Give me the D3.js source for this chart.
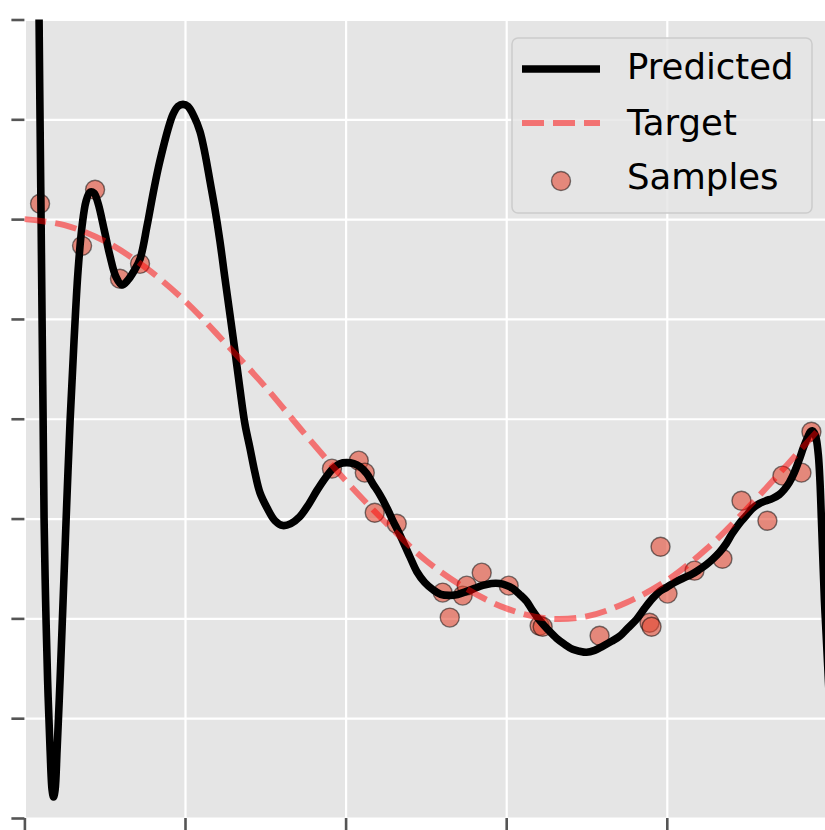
<!DOCTYPE html>
<html>
<head>
<meta charset="utf-8">
<script src="https://cdn.jsdelivr.net/npm/d3@7"></script>
<style>
  body { margin: 0; background: #fff; }
  svg { display: block; }
</style>
</head>
<body>
<script>

// noisy samples
var sampleX = [0.0195, 0.0880, 0.0718, 0.1190, 0.1440, 0.3830, 0.4164, 0.4239, 0.4363, 0.4637,
               0.5209, 0.5458, 0.5508, 0.5695, 0.5297, 0.6031, 0.6416, 0.6454, 0.7163, 0.7785,
               0.7810, 0.7922, 0.8009, 0.8345, 0.8693, 0.8930, 0.9253, 0.9440, 0.9677, 0.9801];
var sampleY = [1.077, 1.147, 0.866, 0.701, 0.776, -0.250, -0.210, -0.270, -0.471, -0.526,
               -0.871, -0.886, -0.836, -0.771, -0.996, -0.836, -1.037, -1.042, -1.087, -1.022,
               -1.042, -0.641, -0.876, -0.761, -0.701, -0.411, -0.511, -0.285, -0.270, -0.065];

// target curve
var targetX = [0, 0.05, 0.10, 0.15, 0.20, 0.25, 0.30, 0.35, 0.40, 0.45, 0.50,
               0.55, 0.60, 0.65, 0.70, 0.75, 0.80, 0.85, 0.90, 0.95, 0.99];
var targetY = [1.00, 0.97, 0.89, 0.76, 0.59, 0.38, 0.16, -0.08, -0.31, -0.52, -0.71,
               -0.85, -0.95, -1.00, -0.99, -0.92, -0.81, -0.65, -0.45, -0.23, -0.05];

// predicted curve
var predX = [0.0158, 0.0183, 0.0195, 0.0208, 0.0220, 0.0233, 0.0245, 0.0264, 0.0289, 0.0320,
             0.0345, 0.0363, 0.0382, 0.0407, 0.0444, 0.0482, 0.0519, 0.0569, 0.0618, 0.0668,
             0.0718, 0.0768, 0.0817, 0.0867, 0.0917, 0.0992, 0.1066, 0.1141, 0.1216, 0.1290,
             0.1365, 0.1440, 0.1527, 0.1601, 0.1664, 0.1726, 0.1788, 0.1850, 0.1912, 0.1975,
             0.2037, 0.2112, 0.2186, 0.2248, 0.2311, 0.2373, 0.2435, 0.2497, 0.2559, 0.2622,
             0.2684, 0.2746, 0.2808, 0.2871, 0.2933, 0.3020, 0.3119, 0.3219, 0.3318, 0.3430,
             0.3530, 0.3642, 0.3741, 0.3841, 0.3928, 0.4015, 0.4102, 0.4177, 0.4264, 0.4339,
             0.4426, 0.4513, 0.4588, 0.4675, 0.4799, 0.4886, 0.4986, 0.5085, 0.5185, 0.5297,
             0.5396, 0.5508, 0.5606, 0.5707, 0.5817, 0.5919, 0.6006, 0.6081, 0.6168, 0.6255,
             0.6327, 0.6417, 0.6516, 0.6628, 0.6728, 0.6827, 0.6914, 0.7001, 0.7101, 0.7200,
             0.7312, 0.7412, 0.7511, 0.7623, 0.7723, 0.7823, 0.7910, 0.7997, 0.8096, 0.8196,
             0.8308, 0.8407, 0.8494, 0.8567, 0.8654, 0.8741, 0.8815, 0.8903, 0.8990, 0.9064,
             0.9152, 0.9239, 0.9313, 0.9400, 0.9462, 0.9525, 0.9587, 0.9649, 0.9701, 0.9751,
             0.9789, 0.9811, 0.9836, 0.9861, 0.9888, 0.9907, 0.9926, 0.9944, 0.9963, 0.9988,
             1.0025];
var predY = [3.34, 1.99, 1.49, 0.995, 0.50, 0.00, -0.50, -0.91, -1.31, -1.66,
             -1.86, -1.895, -1.86, -1.66, -1.31, -0.91, -0.51, -0.01, 0.39, 0.74,
             0.965, 1.09, 1.135, 1.13, 1.08, 0.95, 0.815, 0.71, 0.67, 0.695,
             0.74, 0.80, 0.965, 1.125, 1.25, 1.355, 1.45, 1.525, 1.565, 1.575,
             1.565, 1.515, 1.44, 1.33, 1.19, 1.05, 0.89, 0.705, 0.525, 0.34,
             0.15, -0.025, -0.145, -0.27, -0.37, -0.445, -0.51, -0.535, -0.525, -0.49,
             -0.435, -0.36, -0.30, -0.25, -0.225, -0.22, -0.225, -0.24, -0.275, -0.325,
             -0.38, -0.445, -0.51, -0.58, -0.69, -0.765, -0.82, -0.855, -0.88, -0.885,
             -0.88, -0.865, -0.85, -0.835, -0.825, -0.825, -0.835, -0.85, -0.88, -0.915,
             -0.96, -1.01, -1.055, -1.10, -1.13, -1.155, -1.165, -1.17, -1.16, -1.14,
             -1.115, -1.09, -1.05, -1.005, -0.95, -0.90, -0.865, -0.845, -0.82, -0.80,
             -0.78, -0.755, -0.73, -0.705, -0.67, -0.625, -0.575, -0.525, -0.485, -0.45,
             -0.425, -0.41, -0.40, -0.38, -0.355, -0.32, -0.27, -0.205, -0.145, -0.095,
             -0.065, -0.06, -0.07, -0.10, -0.185, -0.31, -0.51, -0.71, -0.91, -1.11,
             -1.41];

var xTicks = [0, 0.2, 0.4, 0.6, 0.8, 1.0];
var yTicks = [-2, -1.5, -1, -0.5, 0, 0.5, 1, 1.5, 2];
var legendLabels = ["Predicted", "Target", "Samples"];

var width = 825, height = 830;

// scales
var x = d3.scaleLinear().domain([0, 1]).range([24.4, 827.4]);
var y = d3.scaleLinear().domain([-2, 2]).range([818, 19.5]);

var plotW = x(1) - x(0);
var plotH = y(-2) - y(2);

var svg = d3.select("body")
    .append("svg")
    .attr("width", width)
    .attr("height", height)
    .style("font-family", "'DejaVu Sans', sans-serif");

svg.append("defs").append("clipPath")
    .attr("id", "plot-clip")
    .append("rect")
    .attr("x", x(0))
    .attr("y", y(2))
    .attr("width", plotW)
    .attr("height", plotH);

// gray panel
svg.append("rect")
    .attr("x", x(0))
    .attr("y", y(2))
    .attr("width", plotW)
    .attr("height", plotH)
    .attr("fill", "#e5e5e5");

// white grid
var gridX = svg.append("g")
    .attr("transform", "translate(0," + y(-2) + ")")
    .call(d3.axisBottom(x).tickValues(xTicks).tickSize(-plotH).tickFormat(""));
var gridY = svg.append("g")
    .attr("transform", "translate(" + x(0) + ",0)")
    .call(d3.axisLeft(y).tickValues(yTicks).tickSize(-plotW).tickFormat(""));
[gridX, gridY].forEach(function(g) {
    g.select(".domain").remove();
    g.selectAll("line").attr("stroke", "#ffffff").attr("stroke-width", 2.2);
});

// tick marks outside the panel (labels fall outside the picture)
var axX = svg.append("g")
    .attr("transform", "translate(0," + y(-2) + ")")
    .call(d3.axisBottom(x).tickValues(xTicks).tickSize(13).tickFormat(""));
var axY = svg.append("g")
    .attr("transform", "translate(" + x(0) + ",0)")
    .call(d3.axisLeft(y).tickValues(yTicks).tickSize(13).tickFormat(""));
[axX, axY].forEach(function(g) {
    g.select(".domain").remove();
    g.selectAll("line").attr("stroke", "#555555").attr("stroke-width", 2.6);
});

var plot = svg.append("g").attr("clip-path", "url(#plot-clip)");

// samples sit under the lines
plot.selectAll(".sample")
    .data(d3.range(sampleX.length))
    .enter()
    .append("circle")
    .attr("class", "sample")
    .attr("cx", function(i) { return x(sampleX[i]); })
    .attr("cy", function(i) { return y(sampleY[i]); })
    .attr("r", 9.5)
    .attr("fill", "#e24a33")
    .attr("fill-opacity", 0.6)
    .attr("stroke", "#000")
    .attr("stroke-opacity", 0.5)
    .attr("stroke-width", 1.4);

var line = d3.line()
    .x(function(d) { return x(d[0]); })
    .y(function(d) { return y(d[1]); })
    .curve(d3.curveCatmullRom.alpha(0.5));

plot.append("path")
    .datum(d3.zip(predX, predY))
    .attr("d", line)
    .attr("fill", "none")
    .attr("stroke", "#000")
    .attr("stroke-width", 7.6)
    .attr("stroke-linejoin", "round");

plot.append("path")
    .datum(d3.zip(targetX, targetY))
    .attr("d", line)
    .attr("fill", "none")
    .attr("stroke", "#ff0000")
    .attr("stroke-opacity", 0.5)
    .attr("stroke-width", 6)
    .attr("stroke-dasharray", "22,9");

// legend
var legend = svg.append("g");
legend.append("rect")
    .attr("x", 512)
    .attr("y", 38)
    .attr("width", 300)
    .attr("height", 175)
    .attr("rx", 6)
    .attr("fill", "#e5e5e5")
    .attr("fill-opacity", 0.8)
    .attr("stroke", "#cccccc")
    .attr("stroke-width", 1.5);

legend.append("line")
    .attr("x1", 522).attr("x2", 600)
    .attr("y1", 69).attr("y2", 69)
    .attr("stroke", "#000")
    .attr("stroke-width", 7.6);

legend.append("line")
    .attr("x1", 522).attr("x2", 600)
    .attr("y1", 123).attr("y2", 123)
    .attr("stroke", "#ff0000")
    .attr("stroke-opacity", 0.5)
    .attr("stroke-width", 6)
    .attr("stroke-dasharray", "22,9");

legend.append("circle")
    .attr("cx", 561)
    .attr("cy", 181)
    .attr("r", 9.5)
    .attr("fill", "#e24a33")
    .attr("fill-opacity", 0.6)
    .attr("stroke", "#000")
    .attr("stroke-opacity", 0.5)
    .attr("stroke-width", 1.4);

legend.selectAll(".label")
    .data(legendLabels)
    .enter()
    .append("text")
    .attr("class", "label")
    .attr("x", 627)
    .attr("y", function(d, i) { return [78.5, 134.5, 189][i]; })
    .attr("font-size", 35.5)
    .attr("fill", "#000")
    .text(function(d) { return d; });

</script>
</body>
</html>
